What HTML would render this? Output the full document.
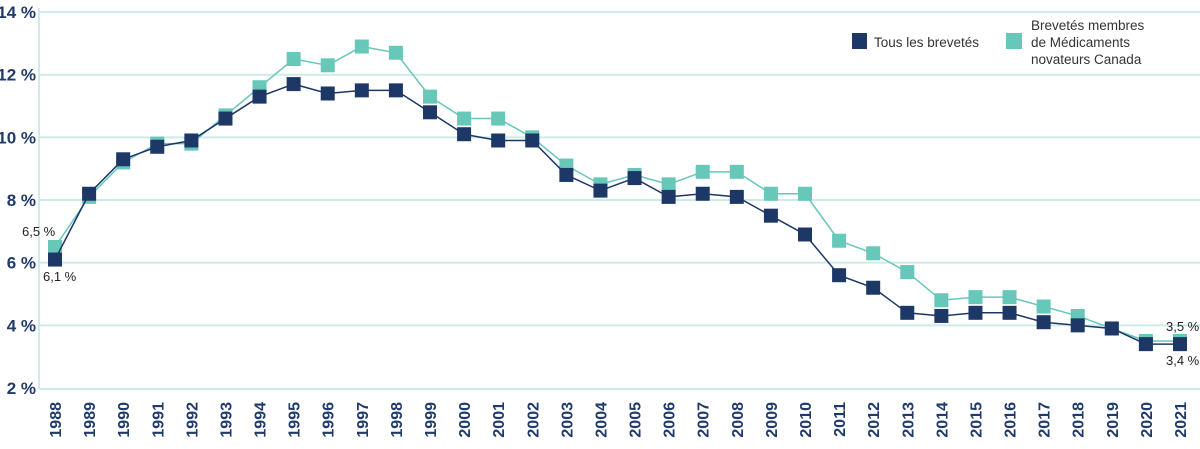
<!DOCTYPE html>
<html><head><meta charset="utf-8"><style>
html,body{margin:0;padding:0;background:#fff;}
svg{display:block;}
</style></head><body>
<svg id="c" width="1200" height="449" xmlns="http://www.w3.org/2000/svg" font-family="Liberation Sans, sans-serif"></svg>
<script>
const s=document.getElementById('c');
const X0=55,DX=(1180-55)/33;
const Y=v=>388-(v-2)*31.33;
const tous=[6.1,8.2,9.3,9.7,9.9,10.6,11.3,11.7,11.4,11.5,11.5,10.8,10.1,9.9,9.9,8.8,8.3,8.7,8.1,8.2,8.1,7.5,6.9,5.6,5.2,4.4,4.3,4.4,4.4,4.1,4.0,3.9,3.4,3.4];
const mem=[6.5,8.1,9.2,9.8,9.8,10.7,11.6,12.5,12.3,12.9,12.7,11.3,10.6,10.6,10.0,9.1,8.5,8.8,8.5,8.9,8.9,8.2,8.2,6.7,6.3,5.7,4.8,4.9,4.9,4.6,4.3,3.9,3.5,3.5];
let h='';
for(let v=4;v<=14;v+=2){h+=`<line x1="39" x2="1200" y1="${Y(v)}" y2="${Y(v)}" stroke="#cdebea" stroke-width="2"/>`;}
h+=`<line x1="39" x2="39" y1="8" y2="389" stroke="#cdebea" stroke-width="2"/><line x1="39" x2="1200" y1="389" y2="389" stroke="#cdebea" stroke-width="2"/>`;
for(let v=2;v<=14;v+=2){h+=`<text x="36" y="${Y(v)+6}" text-anchor="end" font-size="17" font-weight="bold" fill="#1f3a6b" font-family="Liberation Sans Narrow, Liberation Sans, sans-serif">${v} %</text>`;}
for(let i=0;i<34;i++){const x=X0+i*DX;h+=`<text transform="translate(${x+6},402) rotate(-90)" text-anchor="end" font-size="16" font-weight="bold" fill="#1f3a6b" font-family="Liberation Sans Narrow, Liberation Sans, sans-serif">${1988+i}</text>`;}
function ser(d,c){let p=d.map((v,i)=>`${X0+i*DX},${Y(v)}`).join(' ');let r=`<polyline points="${p}" fill="none" stroke="${c}" stroke-width="1.5"/>`;d.forEach((v,i)=>{r+=`<rect x="${X0+i*DX-7}" y="${Y(v)-7}" width="14" height="14" fill="${c}"/>`});return r;}
h+=ser(mem,'#67c7b9');h+=ser(tous,'#1d3766');
h+=`<text x="22" y="236" font-size="13" fill="#222">6,5 %</text><text x="43" y="281" font-size="13" fill="#222">6,1 %</text>`;
h+=`<text x="1166" y="331" font-size="13" fill="#222">3,5 %</text><text x="1166" y="365" font-size="13" fill="#222">3,4 %</text>`;
h+=`<rect x="852" y="33" width="15" height="16" fill="#1d3766"/><text x="874" y="47" font-size="13.5" fill="#333">Tous les brevetés</text>`;
h+=`<rect x="1006" y="33" width="16" height="16" fill="#67c7b9"/><text font-size="13.5" fill="#333"><tspan x="1031" y="30">Brevetés membres</tspan><tspan x="1031" y="47">de Médicaments</tspan><tspan x="1031" y="64">novateurs Canada</tspan></text>`;
s.innerHTML=h;
</script>
</body></html>
